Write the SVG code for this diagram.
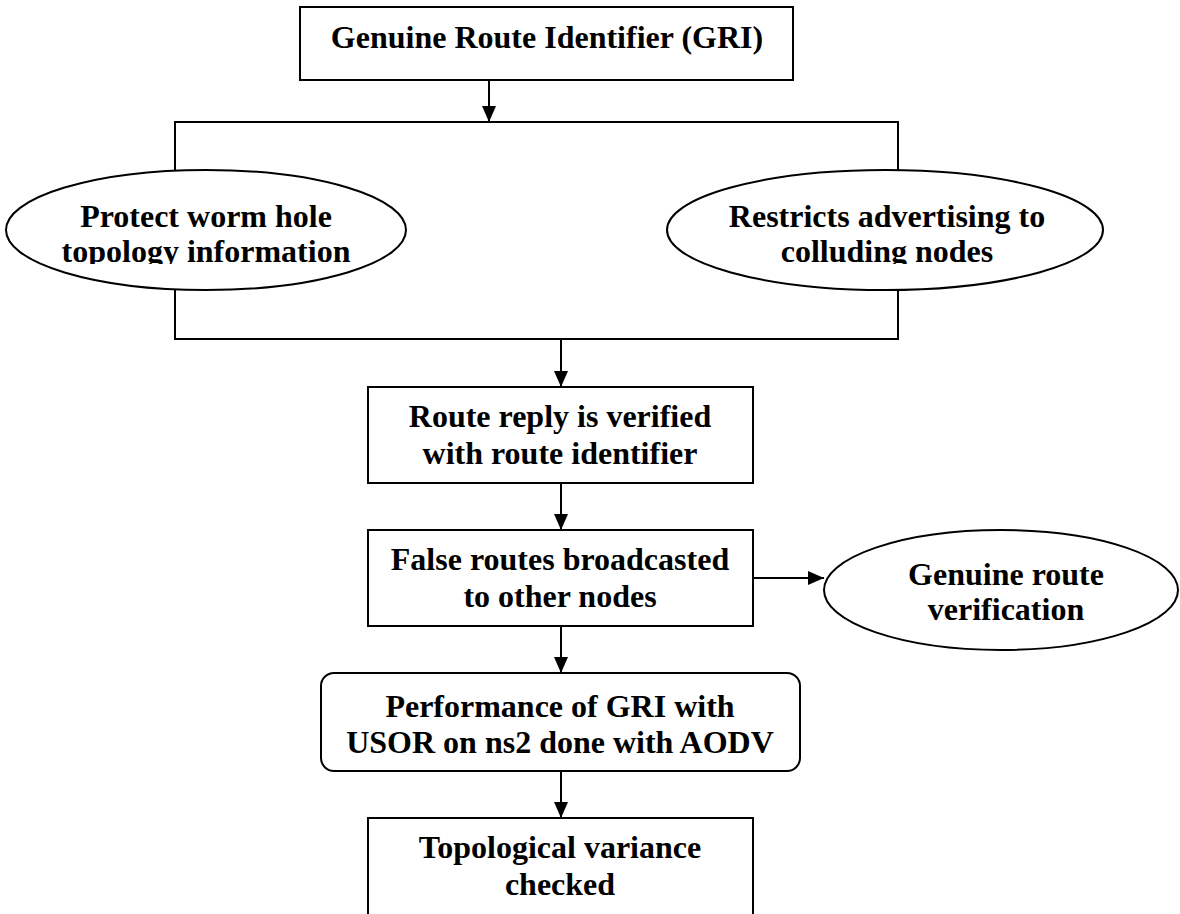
<svg xmlns="http://www.w3.org/2000/svg" width="1180" height="914" viewBox="0 0 1180 914">
<style>
.n{fill:#fff;stroke:#000;stroke-width:2}
.c{fill:none;stroke:#000;stroke-width:2}
text{font-family:"Liberation Serif","Times New Roman",serif;font-weight:bold;font-size:32px;text-anchor:middle;fill:#000}
</style>
<defs>
<marker id="ah" viewBox="0 0 16 14" refX="16" refY="7" markerWidth="16" markerHeight="14" markerUnits="userSpaceOnUse" orient="auto">
<path d="M0,0 L16,7 L0,14 Z" fill="#000"/>
</marker>
<clipPath id="clipTop"><rect x="0" y="0" width="1180" height="264"/></clipPath>
</defs>
<rect width="1180" height="914" fill="#fff"/>
<g id="connectors">
<line class="c" x1="489" y1="80" x2="489" y2="122" marker-end="url(#ah)"/>
<polyline class="c" points="175,171 175,122 898,122 898,171"/>
<polyline class="c" points="175,290 175,339 898,339 898,290"/>
<line class="c" x1="561" y1="339" x2="561" y2="387" marker-end="url(#ah)"/>
<line class="c" x1="561" y1="483" x2="561" y2="530" marker-end="url(#ah)"/>
<line class="c" x1="753" y1="578" x2="824" y2="578" marker-end="url(#ah)"/>
<line class="c" x1="561" y1="626" x2="561" y2="673" marker-end="url(#ah)"/>
<line class="c" x1="561" y1="771" x2="561" y2="818" marker-end="url(#ah)"/>
</g>
<g id="gri">
<rect class="n" x="300" y="7" width="493" height="73"/>
<text x="547" y="48">Genuine Route Identifier (GRI)</text>
</g>
<g id="protect">
<ellipse class="n" cx="206" cy="230" rx="200" ry="60"/>
<text x="206" y="227">Protect worm hole</text>
<text x="206" y="262" clip-path="url(#clipTop)">topology information</text>
</g>
<g id="restricts">
<ellipse class="n" cx="885" cy="230" rx="218" ry="60"/>
<text x="887" y="227">Restricts advertising to</text>
<text x="887" y="262" clip-path="url(#clipTop)">colluding nodes</text>
</g>
<g id="verified">
<rect class="n" x="368" y="387" width="385" height="96"/>
<text x="560" y="427">Route reply is verified</text>
<text x="560" y="464">with route identifier</text>
</g>
<g id="false">
<rect class="n" x="368" y="530" width="385" height="96"/>
<text x="560" y="570">False routes broadcasted</text>
<text x="560" y="607">to other nodes</text>
</g>
<g id="genuine">
<ellipse class="n" cx="1001" cy="590" rx="177" ry="60"/>
<text x="1006" y="585">Genuine route</text>
<text x="1006" y="620">verification</text>
</g>
<g id="performance">
<rect class="n" x="321" y="673" width="479" height="98" rx="13" ry="13"/>
<text x="560" y="717">Performance of GRI with</text>
<text x="560" y="753">USOR on ns2 done with AODV</text>
</g>
<g id="topological">
<rect class="n" x="368" y="818" width="385" height="100"/>
<text x="560" y="858">Topological variance</text>
<text x="560" y="895">checked</text>
</g>
</svg>
